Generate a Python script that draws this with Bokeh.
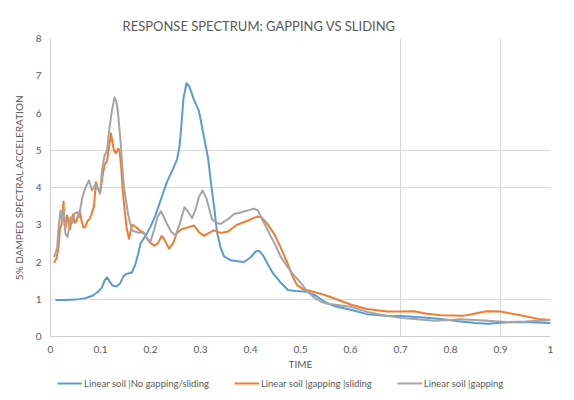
from bokeh.plotting import figure
from bokeh.layouts import column
from bokeh.models import FixedTicker, Legend, LegendItem, Title
from bokeh.embed import file_html
from bokeh.resources import INLINE

# ---- data ----
blue_x = [0.01, 0.03, 0.05, 0.07, 0.085, 0.095, 0.103, 0.108, 0.113, 0.118, 0.124, 0.132, 0.139, 0.146,
          0.152, 0.163, 0.17, 0.175, 0.18, 0.19, 0.2, 0.21, 0.22, 0.233, 0.245, 0.253, 0.258, 0.262, 0.266,
          0.272, 0.278, 0.287, 0.297, 0.307, 0.315, 0.322, 0.328, 0.333, 0.34, 0.347, 0.36, 0.375, 0.387,
          0.4, 0.41, 0.417, 0.425, 0.433, 0.445, 0.46, 0.475, 0.49, 0.513, 0.53, 0.55, 0.567, 0.6, 0.633,
          0.67, 0.7, 0.74, 0.78, 0.82, 0.85, 0.875, 0.9, 0.933, 0.96, 1.0]
blue_y = [0.98, 0.98, 0.99, 1.03, 1.1, 1.2, 1.32, 1.5, 1.59, 1.48, 1.37, 1.34, 1.42, 1.62,
          1.68, 1.72, 1.95, 2.2, 2.5, 2.7, 2.95, 3.25, 3.65, 4.15, 4.5, 4.75, 5.1, 5.7, 6.4,
          6.8, 6.7, 6.35, 6.05, 5.35, 4.8, 4.0, 3.4, 2.8, 2.4, 2.15, 2.05, 2.02, 2.0,
          2.12, 2.28, 2.3, 2.18, 1.98, 1.7, 1.45, 1.25, 1.22, 1.2, 1.1, 0.92, 0.82, 0.72, 0.6,
          0.56, 0.55, 0.52, 0.47, 0.4, 0.36, 0.34, 0.37, 0.39, 0.38, 0.36]

orange_x = [0.007, 0.012, 0.016, 0.019, 0.022, 0.024, 0.026, 0.028, 0.03, 0.033, 0.036, 0.039, 0.042,
            0.045, 0.049, 0.052, 0.056, 0.059, 0.062, 0.066, 0.07, 0.074, 0.078, 0.082, 0.087, 0.091,
            0.095, 0.1, 0.104, 0.108, 0.113, 0.117, 0.121, 0.124, 0.127, 0.131, 0.135, 0.138, 0.141,
            0.144, 0.147, 0.152, 0.157, 0.163, 0.17, 0.178, 0.187, 0.197, 0.207, 0.215, 0.222, 0.228,
            0.237, 0.245, 0.253, 0.262, 0.275, 0.287, 0.297, 0.307, 0.317, 0.327, 0.34, 0.355, 0.373,
            0.393, 0.413, 0.422, 0.432, 0.447, 0.46, 0.473, 0.483, 0.493, 0.505, 0.52, 0.54, 0.56,
            0.58, 0.6, 0.633, 0.673, 0.7, 0.727, 0.75, 0.78, 0.827, 0.85, 0.873, 0.9, 0.94, 0.98, 1.0]
orange_y = [1.98, 2.1, 2.4, 2.9, 3.0, 3.3, 3.62, 3.0, 2.9, 3.25, 3.1, 2.88, 3.1,
            3.28, 3.05, 3.1, 3.3, 3.38, 3.1, 2.92, 2.95, 3.1, 3.15, 3.28, 3.5, 4.15,
            3.95, 3.92, 4.3, 4.6, 4.72, 5.08, 5.45, 5.2, 4.99, 4.92, 5.04, 5.0, 4.6,
            4.0, 3.56, 2.93, 2.62, 3.0, 2.95, 2.85, 2.78, 2.55, 2.44, 2.5, 2.7, 2.6,
            2.36, 2.5, 2.78, 2.88, 2.93, 2.98, 2.8, 2.7, 2.78, 2.85, 2.78, 2.82, 3.0,
            3.1, 3.22, 3.2, 3.05, 2.76, 2.4, 2.0, 1.65, 1.38, 1.27, 1.22, 1.15, 1.06,
            0.96, 0.86, 0.74, 0.67, 0.67, 0.68, 0.62, 0.57, 0.56, 0.62, 0.68, 0.67, 0.57, 0.46, 0.44]

grey_x = [0.007, 0.013, 0.016, 0.02, 0.023, 0.026, 0.03, 0.034, 0.037, 0.04, 0.044, 0.048, 0.053,
          0.057, 0.06, 0.064, 0.07, 0.077, 0.083, 0.09, 0.095, 0.099, 0.103, 0.108, 0.113, 0.118,
          0.123, 0.128, 0.132, 0.135, 0.14, 0.144, 0.147, 0.155, 0.163, 0.173, 0.187, 0.195, 0.2,
          0.207, 0.214, 0.221, 0.227, 0.233, 0.242, 0.25, 0.258, 0.268, 0.275, 0.283, 0.29, 0.297,
          0.304, 0.312, 0.323, 0.333, 0.34, 0.355, 0.367, 0.38, 0.393, 0.407, 0.415, 0.423, 0.433,
          0.44, 0.45, 0.46, 0.475, 0.487, 0.5, 0.513, 0.527, 0.54, 0.553, 0.57, 0.6, 0.633, 0.667,
          0.7, 0.733, 0.767, 0.8, 0.82, 0.867, 0.913, 0.95, 1.0]
grey_y = [2.13, 2.35, 2.9, 3.38, 3.1, 3.4, 2.75, 2.67, 2.9, 3.2, 3.05, 3.3, 3.34,
          3.2, 3.45, 3.75, 4.0, 4.19, 3.92, 4.1, 3.95, 3.83, 4.46, 4.85, 5.0, 5.6,
          6.07, 6.42, 6.3, 6.0, 5.26, 4.5, 4.0, 3.29, 2.85, 2.8, 2.78, 2.6, 2.55,
          2.85, 3.2, 3.36, 3.2, 3.02, 2.8, 2.71, 3.0, 3.47, 3.35, 3.18, 3.4, 3.75,
          3.92, 3.7, 3.15, 3.05, 3.02, 3.15, 3.29, 3.33, 3.38, 3.43, 3.38, 3.15, 2.9,
          2.7, 2.45, 2.15, 1.85, 1.64, 1.45, 1.22, 1.05, 0.94, 0.88, 0.85, 0.8, 0.66, 0.57,
          0.5, 0.46, 0.42, 0.44, 0.46, 0.43, 0.39, 0.4, 0.44]

series_names = ["Linear soil |No gapping/sliding", "Linear soil |gapping |sliding", "Linear soil |gapping"]
x_ticks = [0, 0.1, 0.2, 0.3, 0.4, 0.5, 0.6, 0.7, 0.8, 0.9, 1]
x_tick_labels = ["0", "0.1", "0.2", "0.3", "0.4", "0.5", "0.6", "0.7", "0.8", "0.9", "1"]
y_ticks = [0, 1, 2, 3, 4, 5, 6, 7, 8]
x_grid_vals = [0.7, 0.9, 1]
y_grid_vals = [1, 4, 5, 8]

FONT = "Lato"
TXT = "#595959"
colors = ["#5b9bd5", "#ed7d31", "#a5a5a5"]
series_x = [blue_x, orange_x, grey_x]
series_y = [blue_y, orange_y, grey_y]

p = figure(width=574, height=372, x_range=(0, 1), y_range=(0, 8),
           output_backend="svg", toolbar_location=None,
           min_border_left=50, min_border_right=24, min_border_top=38, min_border_bottom=36)
p.outline_line_color = None
p.background_fill_color = "white"
p.border_fill_color = "white"

p.title = Title(text="RESPONSE SPECTRUM: GAPPING VS SLIDING", align="left", offset=72,
                text_font=FONT, text_font_size="13px", text_color=TXT, text_font_style="normal")

p.xaxis.ticker = FixedTicker(ticks=x_ticks)
p.xaxis.major_label_overrides = {k: v for k, v in zip(x_ticks, x_tick_labels)}
p.yaxis.ticker = FixedTicker(ticks=y_ticks)
for ax in (p.xaxis[0], p.yaxis[0]):
    ax.major_tick_line_color = None
    ax.minor_tick_line_color = None
    ax.major_tick_out = 0
    ax.major_tick_in = 0
    ax.axis_line_color = "#d0d0d0"
    ax.major_label_text_font = FONT
    ax.major_label_text_font_size = "10px"
    ax.major_label_text_color = TXT
    ax.axis_label_text_font = FONT
    ax.axis_label_text_font_size = "10px"
    ax.axis_label_text_color = TXT
    ax.axis_label_text_font_style = "normal"
p.xaxis.axis_label = "TIME"
p.yaxis.axis_label = "5% DAMPED SPECTRAL ACCELERATION"
p.xaxis.major_label_standoff = 9
p.xaxis.axis_label_standoff = 2
p.yaxis.major_label_standoff = 9
p.yaxis.axis_label_standoff = 8

p.xgrid.ticker = FixedTicker(ticks=x_grid_vals)
p.ygrid.ticker = FixedTicker(ticks=y_grid_vals)
p.xgrid.grid_line_color = "#d9d9d9"
p.ygrid.grid_line_color = "#d9d9d9"

for xs, ys, c in zip(series_x, series_y, colors):
    p.line(xs, ys, line_color=c, line_width=2, line_join="round")

# legend strip below the chart (series drawn out of view, only the legend shows)
p2 = figure(width=574, height=28, x_range=(0, 1), y_range=(50, 51),
            output_backend="svg", toolbar_location=None,
            x_axis_type=None, y_axis_type=None, min_border=0)
p2.outline_line_color = None
p2.background_fill_color = "white"
p2.border_fill_color = "white"
items = []
for name, xs, ys, c in zip(series_names, series_x, series_y, colors):
    rr = p2.line(xs, ys, line_color=c, line_width=2)
    items.append(LegendItem(label=name, renderers=[rr]))
legend = Legend(items=items, orientation="horizontal", location=(7, 11),
                label_text_font=FONT, label_text_font_size="9.5px", label_text_color=TXT,
                glyph_width=25, glyph_height=8, label_height=12, label_standoff=2, spacing=25,
                padding=0, margin=0, border_line_color=None, background_fill_alpha=0)
p2.add_layout(legend, "center")

layout = column(p, p2, spacing=0)
open("out.html", "w").write(file_html(layout, INLINE))
